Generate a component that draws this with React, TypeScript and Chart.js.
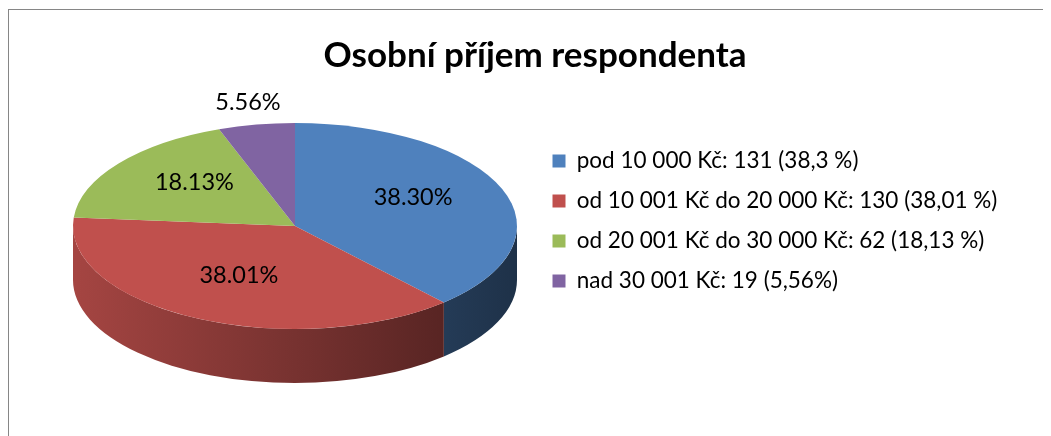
import { useEffect, useRef } from "react";
import { Chart, registerables } from "chart.js";

Chart.register(...registerables);

const titleText = "Osobní příjem respondenta";
const categories = [
  "pod 10 000 Kč: 131 (38,3 %)",
  "od 10 001 Kč do 20 000 Kč: 130 (38,01 %)",
  "od 20 001 Kč do 30 000 Kč: 62 (18,13 %)",
  "nad 30 001 Kč: 19 (5,56%)",
];
const counts = [131, 130, 62, 19];
const percentLabels = ["38.30%", "38.01%", "18.13%", "5.56%"];
const colors = ["#4F81BD", "#C0504D", "#9BBB59", "#8064A2"];

// 3D look geometry (canvas coordinates)
const GEO = { cx: 286, cy: 216, rx: 222, ry: 103, depth: 54 };
const FONT = "Lato, 'Noto Sans', sans-serif";

function shade(hex: string, f: number) {
  const n = parseInt(hex.slice(1), 16);
  const r = Math.round(((n >> 16) & 255) * f);
  const g = Math.round(((n >> 8) & 255) * f);
  const b = Math.round((n & 255) * f);
  return `rgb(${r},${g},${b})`;
}

const pie3d = {
  id: "pie3d",
  beforeDatasetsDraw(chart: any) {
    const meta = chart.getDatasetMeta(0);
    const ctx = chart.ctx as CanvasRenderingContext2D;
    const { cx, cy, rx, ry, depth } = GEO;
    meta.data.forEach((arc: any, i: number) => {
      const { startAngle, endAngle } = arc.getProps(["startAngle", "endAngle"], true);
      const a = Math.max(startAngle, 0);
      const b = Math.min(endAngle, Math.PI);
      if (b <= a) return;
      const grad = ctx.createLinearGradient(cx - rx, 0, cx + rx, 0);
      grad.addColorStop(0, shade(colors[i], 0.86));
      grad.addColorStop(0.5, shade(colors[i], 0.62));
      grad.addColorStop(1, shade(colors[i], 0.38));
      ctx.beginPath();
      ctx.ellipse(cx, cy, rx, ry, 0, a, b);
      ctx.ellipse(cx, cy + depth, rx, ry, 0, b, a, true);
      ctx.closePath();
      ctx.fillStyle = grad;
      ctx.fill();
    });
    const arc0 = meta.data[0];
    const R = arc0.outerRadius;
    ctx.save();
    ctx.translate(cx, cy);
    ctx.scale(rx / R, ry / R);
    ctx.translate(-arc0.x, -arc0.y);
  },
  afterDatasetsDraw(chart: any) {
    const ctx = chart.ctx as CanvasRenderingContext2D;
    ctx.restore();
    const meta = chart.getDatasetMeta(0);
    const total = counts.reduce((s, v) => s + v, 0);
    const { cx, cy, rx, ry } = GEO;
    ctx.save();
    ctx.font = `23.5px ${FONT}`;
    ctx.fillStyle = "#000";
    ctx.textAlign = "center";
    ctx.textBaseline = "middle";
    meta.data.forEach((arc: any, i: number) => {
      const { startAngle, endAngle } = arc.getProps(["startAngle", "endAngle"], true);
      const mid = (startAngle + endAngle) / 2;
      const outside = counts[i] / total < 0.1;
      const f = outside ? 1.22 : 0.6;
      const x = cx + rx * f * Math.cos(mid) * (outside ? 1 : 0.95);
      const y = cy + ry * f * Math.sin(mid) - (outside ? 0 : 6);
      ctx.fillText(percentLabels[i], x, y);
    });
    ctx.restore();
  },
};

export default function App() {
  const ref = useRef<HTMLCanvasElement>(null);
  useEffect(() => {
    document.documentElement.style.overflow = "hidden";
    document.body.style.overflow = "hidden";
    const chart = new Chart(ref.current!, {
      type: "pie",
      data: {
        labels: categories,
        datasets: [{ data: counts, backgroundColor: colors, borderWidth: 0 }],
      },
      options: {
        responsive: false,
        animation: false,
        layout: { padding: { left: 62, right: 52, top: 0, bottom: 4 } },
        plugins: {
          title: {
            display: true,
            text: titleText,
            color: "#000",
            font: { family: FONT, size: 35, weight: "bold" },
            padding: { top: 25, bottom: 24 },
          },
          legend: {
            position: "right",
            align: "center",
            labels: {
              color: "#000",
              font: { family: FONT, size: 22.5 },
              boxWidth: 13,
              boxHeight: 13,
              padding: 17.5,
            },
          },
          tooltip: { enabled: false },
        },
      },
      plugins: [pie3d],
    });
    return () => chart.destroy();
  }, []);
  return (
    <div
      style={{
        marginTop: 1,
        width: 1043,
        height: 427,
        borderTop: "1px solid #868686",
        borderLeft: "1px solid #868686",
        boxSizing: "border-box",
        background: "#fff",
      }}
    >
      <canvas ref={ref} width={1042} height={426} style={{ display: "block" }} />
    </div>
  );
}
